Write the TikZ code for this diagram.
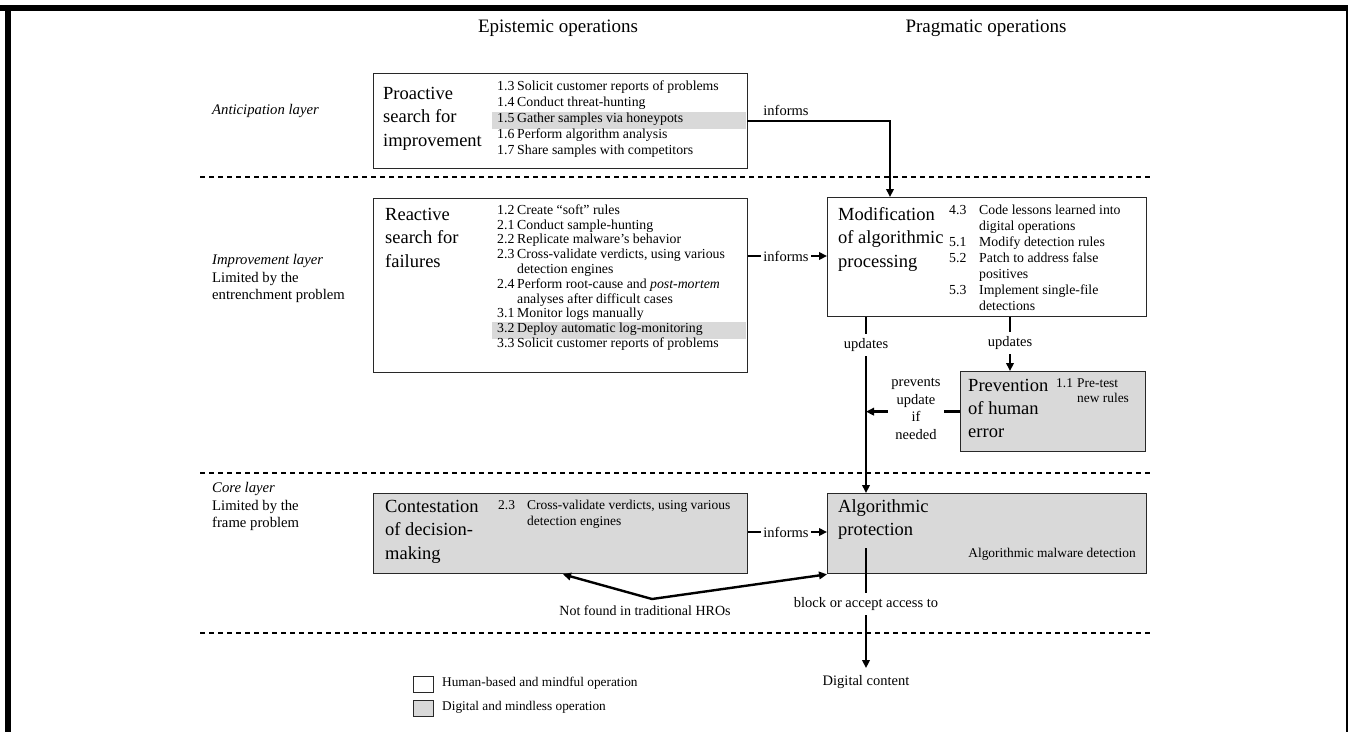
\documentclass[tikz,border=0pt]{standalone}
\usepackage{fontspec}
\setmainfont{Liberation Serif}
\usetikzlibrary{arrows.meta}
\definecolor{boxgray}{RGB}{217,217,217}
\definecolor{rowgray}{RGB}{217,217,217}
\definecolor{boxline}{RGB}{40,40,40}
\newlength\numw
\newcommand\nm[1]{\makebox[\numw][l]{#1}}
\tikzset{
  opbox/.style={draw=boxline, line width=1.3pt, fill=white, inner sep=0pt},
  digbox/.style={opbox, fill=boxgray},
  ttl/.style={anchor=mid west, inner sep=0pt, font=\fontsize{18.5}{23.5}\selectfont},
  itms/.style={anchor=mid west, inner sep=0pt, font=\fontsize{13.8}{16}\selectfont},
  lbl/.style={fill=white, inner xsep=2.5pt, inner ysep=4pt, font=\fontsize{14.5}{17.5}\selectfont},
  conn/.style={line width=2.4pt, -{Triangle[length=8pt,width=7.5pt]}},
  biconn/.style={line width=2.4pt, line join=miter, {Triangle[length=8pt,width=7.5pt]}-{Triangle[length=8pt,width=7.5pt]}},
  layerline/.style={line width=1.1pt, dash pattern=on 5pt off 4pt},
  layer/.style={anchor=mid west, inner sep=0pt, font=\fontsize{14.7}{17.7}\selectfont},
  hdr/.style={anchor=mid, inner sep=0pt, font=\fontsize{19}{22}\selectfont},
  legtxt/.style={anchor=mid west, inner sep=0pt, font=\fontsize{13.3}{16}\selectfont},
}
\begin{document}
\begin{tikzpicture}[x=1pt,y=-1pt]
\useasboundingbox (0,0) rectangle (1348,732);
\fill[white] (0,0) rectangle (1348,732);
% outer frame (cropped)
\fill[black] (0,5) rectangle (1348,10.5);
\fill[black] (5,5) rectangle (11,732);
\fill[black] (1346,5) rectangle (1348,732);

% column headers
\node[hdr] (hep) at (558,30) {Epistemic operations};
\node[hdr] (hpr) at (986,30) {Pragmatic operations};

% layer separators
\draw[layerline] (200,177) -- (1153,177);
\draw[layerline] (200,473) -- (1153,473);
\draw[layerline] (200,633) -- (1153,633);

% layer labels
\node[layer] (lant) at (212,112) {\textit{Anticipation layer}};
\node[layer] (limp) at (212,262) {\begin{tabular}[t]{@{}l@{}}\textit{Improvement layer}\\Limited by the\\entrenchment problem\end{tabular}};
\node[layer] (lcore) at (212,490) {\begin{tabular}[t]{@{}l@{}}\textit{Core layer}\\Limited by the\\frame problem\end{tabular}};

% boxes
\node[opbox, anchor=north west, minimum width=374pt, minimum height=95pt] (pro) at (373,73) {};
\node[opbox, anchor=north west, minimum width=374pt, minimum height=174pt] (rea) at (373,198) {};
\node[opbox, anchor=north west, minimum width=319pt, minimum height=119pt] (mod) at (827,197) {};
\node[digbox, anchor=north west, minimum width=185pt, minimum height=80pt] (prev) at (960,371) {};
\node[digbox, anchor=north west, minimum width=374pt, minimum height=80pt] (con) at (373,493) {};
\node[digbox, anchor=north west, minimum width=319pt, minimum height=80pt] (alg) at (827,493) {};

% highlighted rows
\fill[rowgray] (492,112) rectangle (746.3,129);
\fill[rowgray] (492,322) rectangle (746.3,339);

% Proactive box
\node[ttl] (proT) at (383,97) {\begin{tabular}[t]{@{}l@{}}Proactive\\search for\\improvement\end{tabular}};
\node[itms] (proI) at (497,88.5) {\setlength\numw{20pt}\begin{tabular}[t]{@{}l@{}}
\nm{1.3}Solicit customer reports of problems\\
\nm{1.4}Conduct threat-hunting\\
\nm{1.5}Gather samples via honeypots\\
\nm{1.6}Perform algorithm analysis\\
\nm{1.7}Share samples with competitors\end{tabular}};

% Reactive box
\node[ttl] (reaT) at (385,218) {\begin{tabular}[t]{@{}l@{}}Reactive\\search for\\failures\end{tabular}};
\node[itms, font=\fontsize{13.8}{14.8}\selectfont] (reaI) at (497,212) {\setlength\numw{20pt}\begin{tabular}[t]{@{}l@{}}
\nm{1.2}Create “soft” rules\\
\nm{2.1}Conduct sample-hunting\\
\nm{2.2}Replicate malware’s behavior\\
\nm{2.3}Cross-validate verdicts, using various\\
\nm{}detection engines\\
\nm{2.4}Perform root-cause and \textit{post-mortem}\\
\nm{}analyses after difficult cases\\
\nm{3.1}Monitor logs manually\\
\nm{3.2}Deploy automatic log-monitoring\\
\nm{3.3}Solicit customer reports of problems\end{tabular}};

% Modification box
\node[ttl] (modT) at (838,218) {\begin{tabular}[t]{@{}l@{}}Modification\\of algorithmic\\processing\end{tabular}};
\node[itms] (modI) at (949,212) {\setlength\numw{30pt}\begin{tabular}[t]{@{}l@{}}
\nm{4.3}Code lessons learned into\\
\nm{}digital operations\\
\nm{5.1}Modify detection rules\\
\nm{5.2}Patch to address false\\
\nm{}positives\\
\nm{5.3}Implement single-file\\
\nm{}detections\end{tabular}};

% Prevention box
\node[ttl, font=\fontsize{18.5}{23}\selectfont] (prevT) at (968,389) {\begin{tabular}[t]{@{}l@{}}Prevention\\of human\\error\end{tabular}};
\node[itms, font=\fontsize{13.4}{15}\selectfont] (prevI) at (1056,385) {\setlength\numw{21pt}\begin{tabular}[t]{@{}l@{}}
\nm{1.1}Pre-test\\
\nm{}new rules\end{tabular}};

% Contestation box
\node[ttl] (conT) at (385,510) {\begin{tabular}[t]{@{}l@{}}Contestation\\of decision-\\making\end{tabular}};
\node[itms, font=\fontsize{13.5}{16}\selectfont] (conI) at (498,507) {\setlength\numw{29pt}\begin{tabular}[t]{@{}l@{}}
\nm{2.3}Cross-validate verdicts, using various\\
\nm{}detection engines\end{tabular}};

% Algorithmic protection box
\node[ttl] (algT) at (838,510) {\begin{tabular}[t]{@{}l@{}}Algorithmic\\protection\end{tabular}};
\node[anchor=mid east, inner sep=0pt, font=\fontsize{13.4}{16}\selectfont] (algI) at (1136,555) {Algorithmic malware detection};

% digital content
\node[anchor=mid, inner sep=0pt, font=\fontsize{14.5}{17.5}\selectfont] (dc) at (866,683) {Digital content};

% connectors
\coordinate (proOut) at (747,121);
\coordinate (modIn) at (890,197);
\draw[conn] (proOut) -| (modIn);
\node[anchor=base, inner sep=0pt, font=\fontsize{14.5}{17.5}\selectfont] (inf1) at (786,115) {informs};

\draw[conn] (rea.east |- 0,256) -- (mod.west |- 0,256);
\node[lbl] (inf2) at (786,256) {informs};

\draw[conn] (mod.south -| 866,0) -- (alg.north -| 866,0);
\node[lbl] (upd1) at (866,345) {updates};

\draw[conn] (mod.south -| 1010,0) -- (prev.north -| 1010,0);
\node[lbl] (upd2) at (1010,343) {updates};

\draw[conn] (prev.west) -- (prev.west -| 866,0);
\node[lbl, align=center, inner xsep=3pt] (prevL) at (916,409) {prevents\\update\\if\\needed};

\draw[conn] (con.east |- 0,532) -- (alg.west |- 0,532);
\node[lbl] (inf3) at (786,532) {informs};

\coordinate (algOut) at (866,548);
\draw[conn, shorten >=7pt] (algOut) -- (dc.north);
\node[lbl] (blk) at (866,604) {block or accept access to};

\coordinate (apex) at (652,599);
\draw[biconn] (con.south -| 563,0) -- (apex) -- (alg.south west);
\node[anchor=mid, inner sep=0pt, font=\fontsize{14}{17}\selectfont] (nf) at (645,613) {Not found in traditional HROs};

% legend
\node[opbox, line width=1pt, anchor=north west, minimum width=20pt, minimum height=16pt] (lg1) at (413,676) {};
\node[digbox, line width=1pt, anchor=north west, minimum width=20pt, minimum height=16pt] (lg2) at (413,700) {};
\node[legtxt] (lt1) at (442,684) {Human-based and mindful operation};
\node[legtxt] (lt2) at (442,708) {Digital and mindless operation};
\end{tikzpicture}
\end{document}
